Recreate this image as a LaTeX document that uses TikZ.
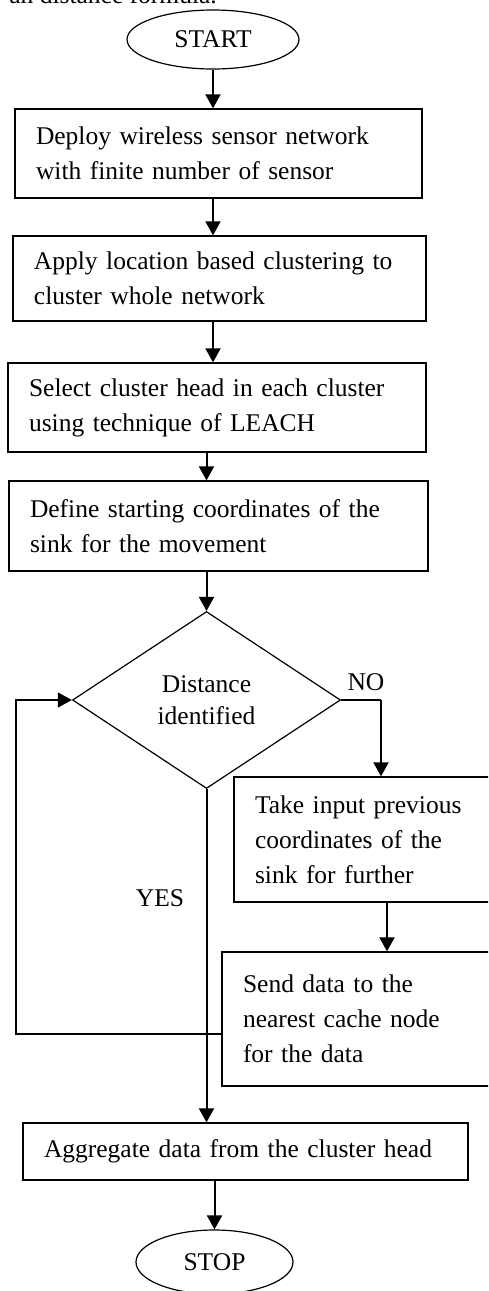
\documentclass[tikz,border=0pt]{standalone}
\usepackage{fontspec}
\setmainfont{Liberation Serif}
\usetikzlibrary{shapes.geometric, arrows.meta}

\tikzset{
  procbox/.style={draw, line width=1.3pt, rectangle, align=left, inner xsep=21pt, inner ysep=0pt},
  termnode/.style={draw, line width=1.2pt, ellipse, inner sep=0pt},
  decnode/.style={draw, line width=1.2pt, diamond, inner sep=0pt, align=center,
    minimum width=268pt, minimum height=177pt, font=\fontsize{25.5}{32}\selectfont},
  flow/.style={line width=2pt, -{Triangle[length=14pt,width=15pt]}},
  loopline/.style={line width=1.2pt, -{Triangle[length=14pt,width=15pt]}},
}

\begin{document}
\begin{tikzpicture}[x=1pt, y=-1pt, font=\fontsize{25.5}{35}\selectfont]
          \path[use as bounding box, clip] (0,0) rectangle (488,1291);

          \node[anchor=base east, inner sep=0pt] (caption) at (217,3) {an distance formula.};

          \node[termnode, minimum width=172pt, minimum height=59pt] (start) at (213,39.5) {START};
          \node[procbox, text width=365pt, minimum height=89pt] (deploy) at (218.5,153.5)
            {Deploy wireless sensor network\\with finite number of sensor};
          \node[procbox, text width=371pt, minimum height=85pt] (cluster) at (219.5,278.5)
            {Apply location based clustering to\\cluster whole network};
          \node[procbox, text width=376pt, minimum height=89pt] (head) at (217,407.5)
            {Select cluster head in each cluster\\using technique of LEACH};
          \node[procbox, text width=377pt, minimum height=90pt] (sinkdef) at (218.5,526)
            {Define starting coordinates of the\\sink for the movement};
          \node[decnode] (dec) at (206.5,700) {Distance\\identified};
          \node[procbox, text width=252pt, minimum height=125pt] (prev) at (381,839.5)
            {Take input previous\\coordinates of the\\sink for further};
          \node[procbox, text width=288pt, minimum height=134pt] (send) at (387,1019)
            {Send data to the\\nearest cache node\\for the data};
          \node[procbox, text width=403pt, minimum height=57pt] (agg) at (245.5,1151.5)
            {Aggregate data from the cluster head};
          \node[termnode, minimum width=157pt, minimum height=64pt] (stop) at (214.5,1262) {STOP};

          \node (no) at (366,682) {NO};
          \node (yes) at (160,898) {YES};

          % main column
          \draw[flow] (start.south) -- (start.south |- deploy.north);
          \draw[flow] (deploy.south -| start.south) -- (cluster.north -| start.south);
          \draw[flow] (cluster.south -| start.south) -- (head.north -| start.south);
          \draw[flow] (head.south -| dec.north) -- (sinkdef.north -| dec.north);
          \draw[flow] (sinkdef.south -| dec.north) -- (dec.north);

          % NO branch
          \draw[line width=1.2pt] (dec.east) -- (dec.east -| prev.north);
          \draw[flow] (dec.east -| prev.north) -- (prev.north);
          \draw[flow] (prev.south -| send.north) -- (send.north);
          \draw[loopline] ([yshift=-15pt]send.west) -| ([xshift=-56pt]dec.west) -- (dec.west);

          % YES branch
          \draw[flow] (dec.south) -- (dec.south |- agg.north);
          \draw[flow] (agg.south -| stop.north) -- (stop.north);
        \end{tikzpicture}
\end{document}
